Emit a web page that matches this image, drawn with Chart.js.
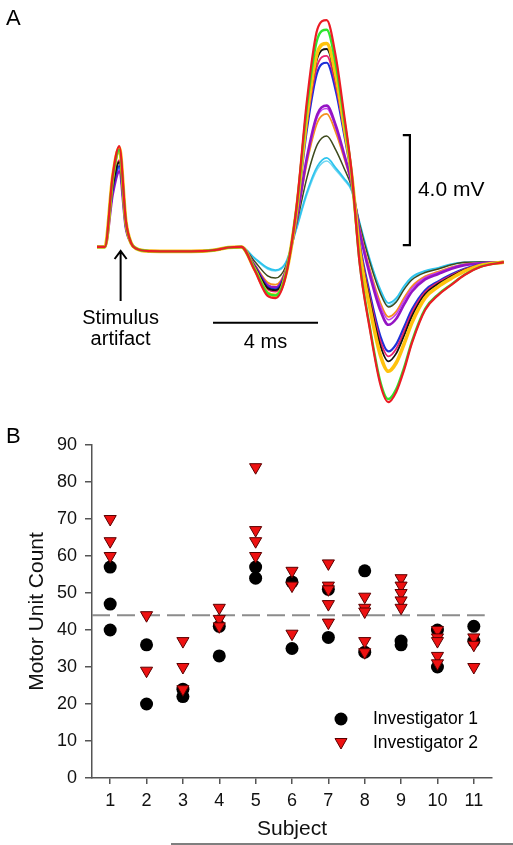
<!DOCTYPE html>
<html>
<head>
<meta charset="utf-8">
<script src="https://cdn.jsdelivr.net/npm/chart.js@4.4.1/dist/chart.umd.min.js"></script>
<style>
  body { margin: 0; background: #fff; }
  #wrap { position: relative; width: 513px; height: 845px; }
  canvas { position: absolute; left: 0; }
  #waves { top: 0; }
  #counts { top: 420px; }
</style>
</head>
<body>
<div id="wrap">
  <canvas id="waves" width="513" height="420"></canvas>
  <canvas id="counts" width="513" height="425"></canvas>
</div>
<script>
const FONT = '"Liberation Sans", Arial, sans-serif';

// ---- panel A: evoked responses, time in ms, amplitude in mV ----
const times = [0, 0.3, 0.6, 0.85, 1.1, 1.3, 1.5, 2, 3, 4, 4.5, 5, 5.5,
  6, 6.5, 6.8, 7.2, 7.6, 8, 8.4, 8.75, 9.1, 9.4, 9.7, 10, 10.4, 10.8, 11.1, 11.4, 11.7, 12, 12.5, 13, 13.5, 14, 14.6,
  15.5];

const redTrace = [0.11, 0.11, 2.72, 3.78, 1.06, 0.25, 0.05, -0.04, -0.05, -0.04, 0, 0.09, 0.11,
  -0.73, -1.67, -1.75, -0.91, 1.56, 5.45, 8.04, 8.36, 7.02, 5.02, 2.84, -0.44, -2.91, -4.91, -5.53, -5.16, -4.36, -3.38, -2.18, -1.64, -1.27, -0.91, -0.62,
  -0.44];
const greenTrace = [0.11, 0.11, 2.62, 3.64, 1.02, 0.25, 0.05, -0.04, -0.05, -0.04, 0, 0.09, 0.11,
  -0.69, -1.57, -1.65, -0.86, 1.51, 5.22, 7.69, 8.01, 6.74, 4.85, 2.79, -0.40, -2.83, -4.81, -5.42, -5.06, -4.27, -3.31, -2.14, -1.61, -1.25, -0.90, -0.61,
  -0.44];
const goldTrace = [0.11, 0.11, 2.67, 3.71, 1.04, 0.25, 0.05, -0.04, -0.05, -0.04, 0, 0.09, 0.11,
  -0.69, -1.57, -1.65, -0.86, 1.43, 4.88, 7.19, 7.51, 6.33, 4.61, 2.73, 0.01, -2.12, -3.84, -4.41, -4.10, -3.41, -2.64, -1.74, -1.33, -1.03, -0.77, -0.56,
  -0.44];
const blackTrace = [0.11, 0.11, 2.30, 3.20, 0.90, 0.25, 0.05, -0.04, -0.05, -0.04, 0, 0.09, 0.11,
  -0.61, -1.38, -1.46, -0.78, 1.40, 4.75, 6.99, 7.31, 6.17, 4.52, 2.70, 0.16, -1.86, -3.49, -4.05, -3.76, -3.11, -2.40, -1.60, -1.23, -0.96, -0.72, -0.55,
  -0.44];
const crimsonTrace = [0.11, 0.11, 2.35, 3.27, 0.92, 0.25, 0.05, -0.04, -0.05, -0.04, 0, 0.09, 0.11,
  -0.62, -1.43, -1.51, -0.80, 1.36, 4.58, 6.74, 7.06, 5.97, 4.40, 2.67, 0.23, -1.74, -3.32, -3.87, -3.59, -2.96, -2.28, -1.53, -1.18, -0.92, -0.70, -0.54,
  -0.44];
const blueTrace = [0.11, 0.11, 2.20, 3.05, 0.85, 0.25, 0.05, -0.04, -0.05, -0.04, 0, 0.09, 0.11,
  -0.59, -1.35, -1.43, -0.76, 1.32, 4.41, 6.49, 6.81, 5.77, 4.28, 2.64, 0.30, -1.61, -3.15, -3.69, -3.42, -2.80, -2.16, -1.46, -1.14, -0.88, -0.68, -0.53,
  -0.44];
const violetTrace = [0.11, 0.11, 2.04, 2.84, 0.80, 0.25, 0.05, -0.04, -0.05, -0.04, 0, 0.09, 0.11,
  -0.56, -1.28, -1.36, -0.73, 1.09, 3.38, 4.95, 5.25, 4.52, 3.53, 2.43, 0.70, -0.92, -2.21, -2.72, -2.50, -1.98, -1.51, -1.07, -0.87, -0.68, -0.55, -0.48,
  -0.44];
const orchidTrace = [0.11, 0.11, 2.10, 2.91, 0.81, 0.25, 0.05, -0.04, -0.05, -0.04, 0, 0.09, 0.11,
  -0.56, -1.28, -1.36, -0.73, 1.07, 3.31, 4.85, 5.15, 4.43, 3.48, 2.42, 0.77, -0.79, -2.04, -2.54, -2.33, -1.83, -1.39, -1.00, -0.82, -0.64, -0.53, -0.47,
  -0.44];
const orangeTrace = [0.11, 0.11, 2.56, 3.56, 1.00, 0.25, 0.05, -0.04, -0.05, -0.04, 0, 0.09, 0.11,
  -0.52, -1.18, -1.26, -0.68, 1.04, 3.18, 4.65, 4.95, 4.27, 3.39, 2.39, 0.82, -0.72, -1.93, -2.43, -2.23, -1.74, -1.32, -0.96, -0.79, -0.62, -0.51, -0.47,
  -0.44];
const oliveTrace = [0.11, 0.11, 2.30, 3.20, 0.90, 0.25, 0.05, -0.04, -0.05, -0.04, 0, 0.09, 0.11,
  -0.41, -0.94, -1.02, -0.57, 0.92, 2.64, 3.85, 4.15, 3.63, 3.00, 2.29, 0.96, -0.46, -1.59, -2.07, -1.89, -1.43, -1.08, -0.82, -0.69, -0.54, -0.45, -0.44,
  -0.44];
const cyanTrace = [0.11, 0.11, 2.15, 2.98, 0.83, 0.25, 0.05, -0.04, -0.05, -0.04, 0, 0.09, 0.11,
  -0.29, -0.65, -0.73, -0.44, 0.80, 2.11, 3.05, 3.35, 2.98, 2.62, 2.18, 1.02, -0.36, -1.45, -1.93, -1.75, -1.31, -0.98, -0.76, -0.65, -0.51, -0.45, -0.44,
  -0.44];
const skyTrace = [0.11, 0.11, 2.10, 2.91, 0.81, 0.25, 0.05, -0.04, -0.05, -0.04, 0, 0.09, 0.11,
  -0.31, -0.69, -0.76, -0.47, 0.75, 2.02, 2.95, 3.24, 2.90, 2.56, 2.14, 0.98, -0.42, -1.53, -2.03, -1.84, -1.40, -1.03, -0.79, -0.67, -0.53, -0.46, -0.44,
  -0.44];

// scale bars (ms / mV)
const timeBarMs = [4.42, 8.42];
const timeBarLevel = -2.65;
const voltBarMv = [0.18, 4.18];
const voltBarTime = 11.92;
const artifactTime = 0.9;

// ---- panel B: motor unit counts per subject ----
const subjects = [1, 2, 3, 4, 5, 6, 7, 8, 9, 10, 11];
const countTicks = [0, 10, 20, 30, 40, 50, 60, 70, 80, 90];
const investigator1 = [[57, 47, 40], [36, 20], [24, 22], [41, 33], [57, 54], [53, 35], [51, 38], [56, 34], [37, 36], [40, 30], [41, 37]];
const investigator2 = [[70, 64, 60], [44, 29], [37, 30, 24], [46, 43, 41], [84, 67, 64, 60], [56, 52, 39], [58, 52, 51, 47, 42],
  [49, 46, 45, 37, 34], [54, 52, 50, 48, 46], [40, 38, 37, 33, 31], [38, 36, 30]];
const meanCount = 44;
const meanSpan = [0.5, 11.3];

// ---------- panel A chart ----------
const traceStyles = [
  { values: redTrace, color: '#ec1c24', width: 2.2 },
  { values: greenTrace, color: '#2ee52e', width: 2.4 },
  { values: goldTrace, color: '#ffc20e', width: 3.6 },
  { values: blackTrace, color: '#111111', width: 1.8 },
  { values: crimsonTrace, color: '#e8206e', width: 1.8 },
  { values: blueTrace, color: '#1c2fd8', width: 2.2 },
  { values: violetTrace, color: '#9414c4', width: 2.6 },
  { values: orchidTrace, color: '#c83cf0', width: 1.5 },
  { values: orangeTrace, color: '#f5901e', width: 1.8 },
  { values: oliveTrace, color: '#3d4a1c', width: 1.5 },
  { values: cyanTrace, color: '#2ec4ee', width: 1.8 },
  { values: skyTrace, color: '#6fd6f2', width: 1.5 }
];

const waveSets = traceStyles.map(s => ({
  data: times.map((t, i) => ({ x: t, y: s.values[i] })),
  borderColor: s.color,
  borderWidth: s.width,
  pointRadius: 0,
  cubicInterpolationMode: 'monotone',
  fill: false
}));

waveSets.push({
  data: [{ x: timeBarMs[0], y: timeBarLevel }, { x: timeBarMs[1], y: timeBarLevel }],
  borderColor: '#000', borderWidth: 2, pointRadius: 0
});
waveSets.push({
  data: [
    { x: voltBarTime - 0.27, y: voltBarMv[1] }, { x: voltBarTime, y: voltBarMv[1] },
    { x: voltBarTime, y: voltBarMv[0] }, { x: voltBarTime - 0.27, y: voltBarMv[0] }
  ],
  borderColor: '#000', borderWidth: 2.2, pointRadius: 0
});

const waveNotes = {
  id: 'waveNotes',
  afterDraw(chart) {
    const { ctx, scales: { x, y } } = chart;
    ctx.save();
    ctx.fillStyle = '#000';
    ctx.strokeStyle = '#000';
    ctx.font = '22px ' + FONT;
    ctx.textBaseline = 'middle';
    ctx.textAlign = 'left';
    ctx.fillText('A', 6, 19);

    // arrow pointing at the artifact
    const ax = x.getPixelForValue(artifactTime);
    const tip = y.getPixelForValue(0) + 1;
    ctx.lineWidth = 2;
    ctx.beginPath();
    ctx.moveTo(ax, tip + 50);
    ctx.lineTo(ax, tip + 1);
    ctx.moveTo(ax - 6, tip + 8);
    ctx.lineTo(ax, tip);
    ctx.lineTo(ax + 6, tip + 8);
    ctx.stroke();

    ctx.font = '20px ' + FONT;
    ctx.textAlign = 'center';
    ctx.fillText('Stimulus', ax, tip + 67);
    ctx.fillText('artifact', ax, tip + 88);

    const mid = (x.getPixelForValue(timeBarMs[0]) + x.getPixelForValue(timeBarMs[1])) / 2;
    ctx.fillText('4 ms', mid, y.getPixelForValue(timeBarLevel) + 20);

    ctx.textAlign = 'left';
    ctx.font = '21px ' + FONT;
    ctx.fillText('4.0 mV', x.getPixelForValue(voltBarTime) + 8,
      (y.getPixelForValue(voltBarMv[0]) + y.getPixelForValue(voltBarMv[1])) / 2);
    ctx.restore();
  }
};

new Chart('waves', {
  type: 'line',
  data: { datasets: waveSets },
  options: {
    responsive: false,
    animation: false,
    devicePixelRatio: 1,
    events: [],
    layout: { padding: 0 },
    plugins: { legend: { display: false }, tooltip: { enabled: false } },
    scales: {
      x: { type: 'linear', display: false, min: -3.695, max: 15.848 },
      y: { type: 'linear', display: false, min: -6.182, max: 9.091 }
    }
  },
  plugins: [waveNotes]
});

// ---------- panel B chart ----------
const toPoints = groups => groups.flatMap((vals, i) => vals.map(v => ({ x: subjects[i], y: v })));

const countNotes = {
  id: 'countNotes',
  afterDraw(chart) {
    const { ctx } = chart;
    ctx.save();
    ctx.fillStyle = '#000';
    ctx.font = '22px ' + FONT;
    ctx.textBaseline = 'middle';
    ctx.fillText('B', 6, 17);

    // legend
    ctx.beginPath();
    ctx.arc(341, 299, 6.5, 0, Math.PI * 2);
    ctx.fill();
    ctx.fillStyle = '#ee1111';
    ctx.strokeStyle = '#5a0000';
    ctx.lineWidth = 1;
    ctx.beginPath();
    ctx.moveTo(335, 318.5);
    ctx.lineTo(347, 318.5);
    ctx.lineTo(341, 329);
    ctx.closePath();
    ctx.fill();
    ctx.stroke();

    ctx.fillStyle = '#000';
    ctx.font = '17.5px ' + FONT;
    ctx.fillText('Investigator 1', 373, 299);
    ctx.fillText('Investigator 2', 373, 323);

    ctx.strokeStyle = '#555';
    ctx.lineWidth = 1.5;
    ctx.beginPath();
    ctx.moveTo(171, 424);
    ctx.lineTo(513, 424);
    ctx.stroke();
    ctx.restore();
  }
};

new Chart('counts', {
  type: 'scatter',
  data: {
    datasets: [
      {
        label: 'Investigator 2',
        data: toPoints(investigator2),
        pointStyle: 'triangle',
        rotation: 180,
        pointRadius: 7,
        backgroundColor: '#ee1111',
        borderColor: '#5a0000',
        borderWidth: 1
      },
      {
        label: 'Investigator 1',
        data: toPoints(investigator1),
        pointStyle: 'circle',
        pointRadius: 6.5,
        backgroundColor: '#000',
        borderColor: '#000',
        borderWidth: 0
      },
      {
        label: 'mean',
        data: meanSpan.map(s => ({ x: s, y: meanCount })),
        showLine: true,
        pointRadius: 0,
        borderColor: '#8c8c8c',
        borderWidth: 2,
        borderDash: [18, 7]
      }
    ]
  },
  options: {
    responsive: false,
    animation: false,
    devicePixelRatio: 1,
    events: [],
    layout: { padding: { left: 0, right: 21, top: 25, bottom: 0 } },
    plugins: { legend: { display: false }, tooltip: { enabled: false } },
    scales: {
      x: {
        type: 'linear',
        min: 0.5,
        max: 11.5,
        afterBuildTicks: s => { s.ticks = subjects.map(v => ({ value: v })); },
        afterFit: s => { s.height = 67; },
        border: { color: '#555', width: 1.5 },
        grid: { drawOnChartArea: false, drawTicks: true, tickLength: 6, color: '#555', lineWidth: 1.5 },
        ticks: { color: '#111', font: { family: FONT, size: 18 }, padding: 6, maxRotation: 0 },
        title: { display: true, text: 'Subject', color: '#111', font: { family: FONT, size: 21 }, padding: { top: 0, bottom: 3 } }
      },
      y: {
        type: 'linear',
        min: 0,
        max: 90,
        afterBuildTicks: s => { s.ticks = countTicks.map(v => ({ value: v })); },
        afterFit: s => { s.width = 92; },
        border: { color: '#555', width: 1.5 },
        grid: { drawOnChartArea: false, drawTicks: true, tickLength: 7, color: '#555', lineWidth: 1.5 },
        ticks: { color: '#111', font: { family: FONT, size: 18 }, padding: 8 },
        title: { display: true, text: 'Motor Unit Count', color: '#111', font: { family: FONT, size: 21 }, padding: { top: 25, bottom: 0 } }
      }
    }
  },
  plugins: [countNotes]
});
</script>
</body>
</html>
